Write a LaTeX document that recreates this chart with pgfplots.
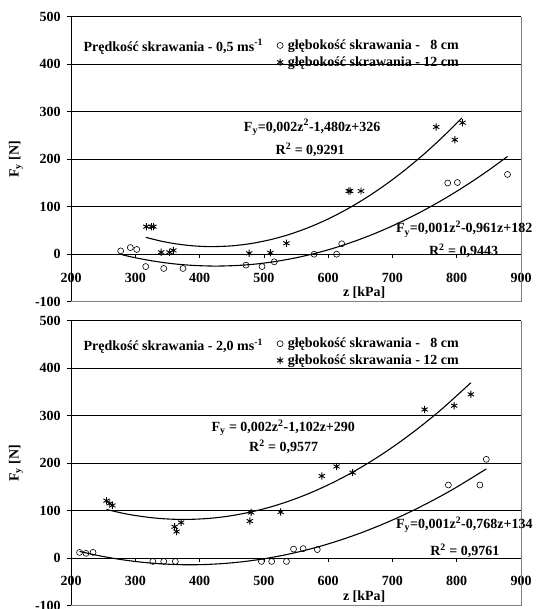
\documentclass[border=0pt]{standalone}
\usepackage{fontspec}
\setmainfont{Liberation Serif}
\usepackage{pgfplots}
\pgfplotsset{compat=1.18}
\newcommand{\bfx}{\fontsize{14}{16}\selectfont\bfseries}
\pgfplotsset{
 panel/.style={
  scale only axis, width=449.8pt, height=284.9pt,
  xmin=200, xmax=900, ymin=-100, ymax=500,
  axis x line=middle, axis y line=left,
  axis line style={-, black, line width=0.8pt},
  hide obscured x ticks=false,
  xtick={200,300,...,900}, xticklabels={200,300,400,500,600,700,800,900},
  ytick={0,100,...,500}, yticklabels={0,100,200,300,400,500},
  extra y ticks={-100}, extra y tick labels={-100}, extra y tick style={grid=none},
  ymajorgrids, grid style={black, line width=0.8pt},
  tick align=outside, major tick length=4pt, tick style={black, line width=0.8pt},
  ticklabel style={font=\bfx},
  xticklabel style={yshift=-11pt},
  yticklabel style={xshift=-3pt},
  clip=false,
  legend cell align=left,
  legend style={draw=none, fill=none, font=\bfx, inner sep=0pt, row sep=2.5pt,
    nodes={inner sep=1.5pt}, /tikz/every odd column/.style={column sep=3pt}},
 },
 fit/.style={black, line width=1.1pt, smooth, forget plot},
 circ/.style={only marks, mark=o, mark size=3pt, black, line width=0.6pt},
 star/.style={only marks, mark=asterisk, mark size=3.6pt, black, line width=0.9pt},
}
\begin{document}
\begin{tikzpicture}
% ---------------- top panel ----------------
\begin{axis}[panel, at={(71.2pt,-16.8pt)}, anchor=north west,
  legend style={at={(axis cs:520,455)}, anchor=north west}]
\draw[gray, line width=0.8pt] (rel axis cs:0,0) -- (rel axis cs:1,0) -- (rel axis cs:1,1);
\addplot[fit] coordinates {(316,35.5)(340,27.5)(360,22.5)(380,18.9)(400,16.7)(420,16)(450,17.6)(480,22.5)(510,30.6)(540,41.9)(570,56.5)(600,74.3)(630,95.4)(660,119.7)(690,147.2)(720,178)(750,212)(780,249.3)(808,287)};
\addplot[fit] coordinates {(279,-1.1)(300,-7.5)(330,-14.9)(360,-20.3)(390,-23.6)(425,-25)(460,-23.6)(490,-20.3)(520,-14.9)(550,-7.5)(580,1.9)(610,13.3)(640,26.8)(670,42.2)(700,59.7)(730,79.2)(760,100.7)(790,124.2)(820,149.7)(850,177.3)(879,205.9)};
\addplot[circ] coordinates {(277,7)(292,14)(302,10)(316,-26)(344,-30)(374,-30)(472,-23)(497,-26)(516,-16)(578,0)(613,0)(621,22)(786,150)(801,151)(879,168)};
\addlegendentry{głębokość skrawania - \phantom{1}8 cm}
\addplot[star] coordinates {(317,58)(325,58)(328,58)(340,4)(353,4)(359,8)(477,2)(510,3)(535,23)(632,133)(634,133)(651,133)(768,268)(797,241)(809,277)};
\addlegendentry{głębokość skrawania - 12 cm}
\node[font=\bfx, anchor=west] at (axis cs:213.7,436.8) {Prędkość skrawania - 0,5 ms\textsuperscript{-1}};
\node[font=\bfx] at (axis cs:575,267) {F\textsubscript{y}=0,002z\textsuperscript{2}-1,480z+326};
\node[font=\bfx] at (axis cs:572,220) {R\textsuperscript{2} = 0,9291};
\node[font=\bfx] at (axis cs:811.6,52.8) {F\textsubscript{y}=0,001z\textsuperscript{2}-0,961z+182};
\node[font=\bfx] at (axis cs:810.7,7) {R\textsuperscript{2} = 0,9443};
\node[font=\bfx] at (axis cs:656,-80) {z [kPa]};
\node[font=\bfx, rotate=90] at (rel axis cs:-0.1227,0.5) {F\textsubscript{y} [N]};
\end{axis}
% ---------------- bottom panel ----------------
\begin{axis}[panel, at={(71.2pt,-320.7pt)}, anchor=north west,
  legend style={at={(axis cs:520,467)}, anchor=north west}]
\draw[gray, line width=0.8pt] (rel axis cs:0,0) -- (rel axis cs:1,0) -- (rel axis cs:1,1);
\addplot[fit] coordinates {(255,102.4)(280,94.6)(300,89.7)(330,84.4)(360,81.8)(390,81.8)(420,84.3)(450,89.5)(480,97.3)(510,107.6)(540,120.6)(570,136.1)(600,154.3)(630,175)(660,198.4)(690,224.3)(720,252.9)(750,284)(780,317.7)(822,369.4)};
\addplot[fit] coordinates {(213,14.1)(240,6)(270,-1.4)(300,-7.1)(330,-11.1)(360,-13.4)(385,-14)(410,-13.4)(440,-11.1)(470,-7.1)(500,-1.4)(530,6)(560,15.1)(590,25.9)(620,38.5)(650,52.7)(680,68.7)(710,86.3)(740,105.7)(770,126.8)(800,149.6)(846,187.9)};
\addplot[circ] coordinates {(213,12)(223,10)(234,12)(327,-7)(344,-7)(362,-7)(496,-7)(512,-7)(535,-7)(546,19)(561,20)(583,18)(787,154)(836,154)(846,208)};
\addlegendentry{głębokość skrawania - \phantom{1}8 cm}
\addplot[star] coordinates {(255,121)(260,115)(264,111)(361,66)(364,56)(371,75)(478,78)(480,96)(526,97)(590,173)(613,193)(638,180)(750,313)(796,321)(822,345)};
\addlegendentry{głębokość skrawania - 12 cm}
\node[font=\bfx, anchor=west] at (axis cs:213.7,446) {Prędkość skrawania - 2,0 ms\textsuperscript{-1}};
\node[font=\bfx] at (axis cs:530,274) {F\textsubscript{y} = 0,002z\textsuperscript{2}-1,102z+290};
\node[font=\bfx] at (axis cs:530.7,235) {R\textsuperscript{2} = 0,9577};
\node[font=\bfx] at (axis cs:811.8,70.4) {F\textsubscript{y}=0,001z\textsuperscript{2}-0,768z+134};
\node[font=\bfx] at (axis cs:812.6,15.4) {R\textsuperscript{2} = 0,9761};
\node[font=\bfx] at (axis cs:656,-80) {z [kPa]};
\node[font=\bfx, rotate=90] at (rel axis cs:-0.1227,0.5) {F\textsubscript{y} [N]};
\end{axis}
\pgfresetboundingbox
\useasboundingbox (0,0) rectangle (539pt,-609pt);
\end{tikzpicture}
\end{document}
